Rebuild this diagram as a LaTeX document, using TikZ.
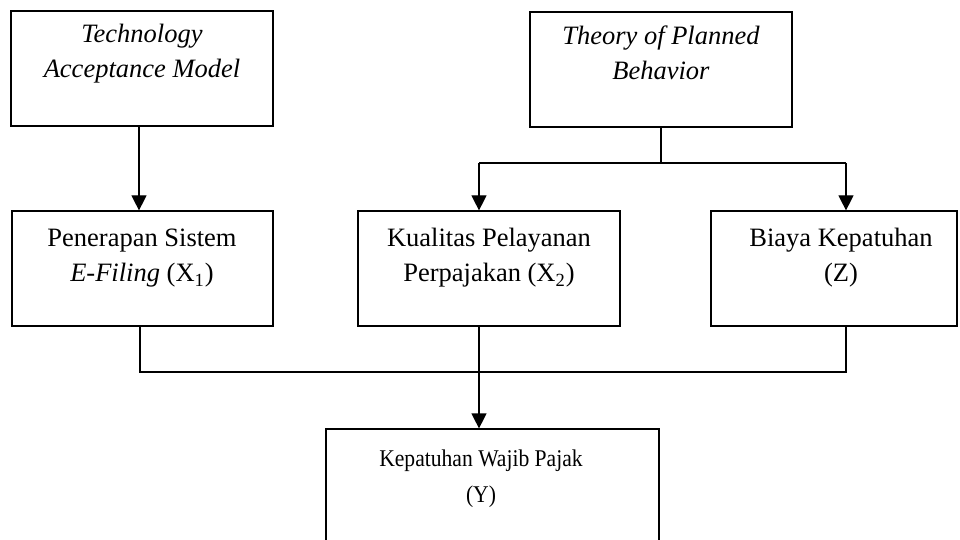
\documentclass[tikz,border=0pt]{standalone}
\usepackage{fontspec}
\setmainfont{Liberation Serif}
\newfontfamily\narrowserif[FakeStretch=0.9]{Liberation Serif}
\usetikzlibrary{arrows.meta}
\begin{document}
\begin{tikzpicture}[x=0.5pt,y=-0.5pt,
  box/.style={draw, line width=0.6pt, inner sep=0pt, minimum height=57.5pt},
  lbl/.style={align=center, font=\fontsize{13.25pt}{17.5pt}\selectfont, inner sep=0pt, anchor=base},
  narrowlbl/.style={lbl, font=\narrowserif\fontsize{12pt}{17.5pt}\selectfont},
  link/.style={line width=0.6pt},
  arr/.style={link, -{Triangle[length=7.5pt,width=7.5pt]}}]
\useasboundingbox (0,0) rectangle (960,540);

% frames
\node[box, minimum width=131pt]   (tam) at (142,68.5)   {};
\node[box, minimum width=131pt]   (tpb) at (661,69.5)   {};
\node[box, minimum width=130.5pt] (x1)  at (142.5,268.5) {};
\node[box, minimum width=131pt]   (x2)  at (489,268.5)  {};
\node[box, minimum width=123pt]   (z)   at (834,268.5)  {};
\node[box, minimum width=166.5pt] (y)   at (492.5,486.5) {};

% texts (anchored at the baseline of the last line)
\node[lbl] (tamtxt) at (142,78) {\textit{Technology}\\\textit{Acceptance Model}};
\node[lbl] (tpbtxt) at (661,80) {\textit{Theory of Planned}\\\textit{Behavior}};
\node[lbl] (x1txt)  at (142,282) {Penerapan Sistem\\\textit{E-Filing} (X\textsubscript{1})};
\node[lbl] (x2txt)  at (489,282) {Kualitas Pelayanan\\Perpajakan (X\textsubscript{2})};
\node[lbl] (ztxt)   at (841,282) {Biaya Kepatuhan\\(Z)};
\node[narrowlbl] (ytxt) at (481,502) {Kepatuhan Wajib Pajak\\(Y)};

% TAM -> X1
\coordinate (ta) at (139,0);
\draw[arr] (tam.south -| ta) -- (x1.north -| ta);

% TPB -> X2, Z
\coordinate (tj) at (661,163);
\coordinate (tl) at (479,163);
\coordinate (tr) at (846,163);
\draw[link] (tpb.south -| tj) -- (tj);
\draw[link] (tl) -- (tr);
\draw[arr] (tl) -- (tl |- x2.north);
\draw[arr] (tr) -- (tr |- z.north);

% X1, X2, Z -> Y
\coordinate (bl) at (140,372);
\coordinate (br) at (846,372);
\coordinate (bm) at (479,372);
\draw[link] (x1.south -| bl) -- (bl) -- (br) -- (z.south -| br);
\draw[arr] (x2.south -| bm) -- (y.north -| bm);
\end{tikzpicture}
\end{document}
